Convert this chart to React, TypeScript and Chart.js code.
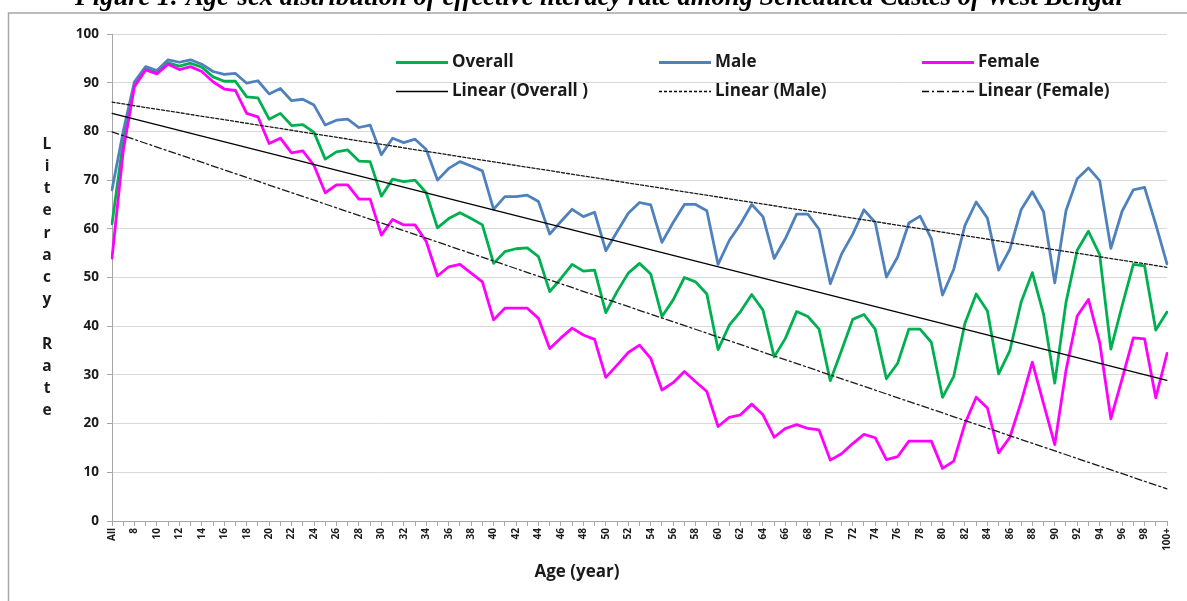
import React, { useEffect, useRef } from "react";
import { Chart, registerables } from "chart.js";

Chart.register(...registerables);

const ages: string[] = ["All"];
for (let a = 7; a <= 99; a++) ages.push(String(a));
ages.push("100+");

const overall: number[] = [
  61, 78, 89.7, 93, 92, 94.1, 93.4, 94, 93.2, 91.2,
  90.3, 90.3, 87.1, 86.9, 82.5, 83.7, 81.2, 81.4, 79.8, 74.3,
  75.8, 76.2, 73.9, 73.8, 66.7, 70.2, 69.7, 70.0, 67.4, 60.2,
  62.1, 63.3, 62.1, 60.8, 52.9, 55.3, 55.9, 56.1, 54.3, 47.1,
  49.8, 52.7, 51.3, 51.5, 42.8, 47.1, 50.9, 52.9, 50.7, 42.0,
  45.4, 50.0, 49.1, 46.6, 35.2, 40.2, 43.0, 46.5, 43.3, 33.7,
  37.5, 43.0, 42.0, 39.4, 28.8, 35.0, 41.4, 42.4, 39.4, 29.2,
  32.4, 39.4, 39.4, 36.7, 25.4, 29.7, 40.6, 46.6, 43.1, 30.2,
  35.0, 44.9, 51.0, 42.5, 28.3, 44.9, 55.6, 59.5, 54.7, 35.3,
  44.2, 52.7, 52.4, 39.2, 42.9,
];

const male: number[] = [
  68, 80, 90.2, 93.3, 92.5, 94.7, 94.2, 94.7, 93.8, 92.3,
  91.7, 91.9, 89.9, 90.4, 87.7, 88.8, 86.3, 86.6, 85.4, 81.3,
  82.3, 82.5, 80.8, 81.3, 75.2, 78.6, 77.7, 78.4, 76.3, 70.0,
  72.4, 73.8, 72.9, 71.9, 64.0, 66.6, 66.6, 66.9, 65.6, 58.9,
  61.5, 64.0, 62.5, 63.4, 55.5, 59.4, 63.2, 65.4, 64.9, 57.2,
  61.3, 65.0, 65.0, 63.7, 52.7, 57.6, 61.0, 65.0, 62.5, 53.9,
  58.0, 63.0, 63.0, 59.9, 48.7, 54.8, 58.9, 63.9, 61.3, 50.1,
  54.2, 61.2, 62.6, 58.0, 46.4, 51.7, 60.7, 65.5, 62.2, 51.5,
  55.8, 63.9, 67.6, 63.5, 48.9, 63.7, 70.3, 72.5, 69.9, 56.0,
  63.6, 68.0, 68.5, 60.9, 52.8,
];

const female: number[] = [
  54, 76, 89.2, 92.6, 91.8, 93.8, 92.7, 93.3, 92.3, 90.2,
  88.7, 88.4, 83.7, 83.0, 77.5, 78.6, 75.6, 76.0, 73.0, 67.4,
  69.0, 69.0, 66.1, 66.1, 58.7, 61.9, 60.8, 60.8, 57.4, 50.3,
  52.2, 52.7, 50.9, 49.1, 41.3, 43.7, 43.7, 43.7, 41.6, 35.4,
  37.6, 39.6, 38.2, 37.3, 29.5, 32.0, 34.6, 36.1, 33.4, 26.9,
  28.4, 30.7, 28.6, 26.6, 19.4, 21.3, 21.8, 24.0, 21.8, 17.2,
  19.0, 19.8, 19.0, 18.7, 12.5, 13.8, 15.9, 17.8, 17.1, 12.6,
  13.2, 16.4, 16.4, 16.4, 10.8, 12.3, 20.0, 25.4, 23.2, 14.0,
  17.2, 24.4, 32.6, 24.1, 15.7, 30.9, 42.1, 45.5, 36.7, 21.0,
  29.2, 37.6, 37.4, 25.3, 34.4,
];

// trend line end values (first category, last category)
const trendOverall: number[] = [83.7, 28.9];
const trendMale: number[] = [86.0, 52.1];
const trendFemale: number[] = [79.9, 6.6];

const yTicks: number[] = [0, 10, 20, 30, 40, 50, 60, 70, 80, 90, 100];

const TITLE =
  "Figure 1: Age-sex distribution of effective literacy rate among Scheduled Castes of West Bengal";
const Y_TITLE = "Literacy Rate";
const X_TITLE = "Age (year)";

const FONT = '"Open Sans", "Noto Sans", sans-serif';
const TEXT = "#1a1a1a";

const endpoints = (pair: number[]) =>
  ages.map((_, i) => (i === 0 ? pair[0] : i === ages.length - 1 ? pair[1] : null));

type LegendItem = { label: string; color: string; width: number; dash: number[] };
const legendItems: LegendItem[] = [
  { label: "Overall", color: "#00b050", width: 3, dash: [] },
  { label: "Male", color: "#4f81bd", width: 3, dash: [] },
  { label: "Female", color: "#ff00ff", width: 3, dash: [] },
  { label: "Linear (Overall )", color: "#000000", width: 1.3, dash: [] },
  { label: "Linear (Male)", color: "#000000", width: 1.3, dash: [3, 2] },
  { label: "Linear (Female)", color: "#000000", width: 1.3, dash: [7, 3, 2, 3] },
];

const decorPlugin = {
  id: "decor",
  beforeDraw(chart: any) {
    const ctx = chart.ctx;
    ctx.save();
    ctx.strokeStyle = "#a6a6a6";
    ctx.lineWidth = 1.5;
    ctx.beginPath();
    ctx.moveTo(8.5, chart.height + 2);
    ctx.lineTo(8.5, 13);
    ctx.lineTo(chart.width + 2, 13);
    ctx.stroke();
    ctx.restore();
  },
  afterDraw(chart: any) {
    const ctx = chart.ctx;
    const area = chart.chartArea;
    ctx.save();
    // title (cut off at top)
    ctx.font = 'bold italic 20px "Liberation Serif", "DejaVu Serif", serif';
    const w20 = ctx.measureText(TITLE).width;
    const size = (20 * 1048) / w20;
    ctx.font = `bold italic ${size}px "Liberation Serif", "DejaVu Serif", serif`;
    ctx.fillStyle = "#000";
    ctx.textAlign = "left";
    ctx.textBaseline = "alphabetic";
    ctx.fillText(TITLE, 75, 4.5);

    // y title stacked letters
    ctx.font = `bold 15.5px ${FONT}`;
    ctx.fillStyle = TEXT;
    ctx.textAlign = "center";
    ctx.textBaseline = "middle";
    const letters = Y_TITLE.split("");
    const step = 22.2;
    const cy = (area.top + area.bottom) / 2;
    const start = cy - ((letters.length - 1) * step) / 2;
    letters.forEach((ch, k) => {
      if (ch !== " ") ctx.fillText(ch, 47, start + k * step);
    });

    // x title
    ctx.font = `bold 17px ${FONT}`;
    ctx.textAlign = "center";
    ctx.fillText(X_TITLE, 577, 572);

    // legend
    ctx.font = `bold 17px ${FONT}`;
    ctx.textAlign = "left";
    ctx.textBaseline = "middle";
    legendItems.forEach((it, k) => {
      const col = k % 3;
      const row = Math.floor(k / 3);
      const x0 = area.left + 284 + col * 263;
      const y0 = area.top + 28.5 + row * 29;
      ctx.strokeStyle = it.color;
      ctx.lineWidth = it.width;
      ctx.setLineDash(it.dash);
      ctx.beginPath();
      ctx.moveTo(x0, y0);
      ctx.lineTo(x0 + 52, y0);
      ctx.stroke();
      ctx.setLineDash([]);
      ctx.fillStyle = TEXT;
      ctx.fillText(it.label, x0 + 56, y0);
    });
    ctx.restore();
  },
};

export default function App() {
  const ref = useRef<HTMLCanvasElement | null>(null);
  useEffect(() => {
    if (!ref.current) return;
    const lineCommon = {
      pointRadius: 0,
      pointHoverRadius: 0,
      tension: 0,
      fill: false,
      borderJoinStyle: "round" as const,
      borderCapStyle: "round" as const,
    };
    const chart = new Chart(ref.current, {
      type: "line",
      data: {
        labels: ages,
        datasets: [
          { label: "Overall", data: overall, borderColor: "#00b050", borderWidth: 2.8, order: 4, ...lineCommon },
          { label: "Male", data: male, borderColor: "#4f81bd", borderWidth: 2.8, order: 3, ...lineCommon },
          { label: "Female", data: female, borderColor: "#ff00ff", borderWidth: 2.8, order: 2, ...lineCommon },
          { label: "Linear (Overall )", data: endpoints(trendOverall), borderColor: "#000000", borderWidth: 1.3, spanGaps: true, order: 1, ...lineCommon },
          { label: "Linear (Male)", data: endpoints(trendMale), borderColor: "#1a1a1a", borderWidth: 1.3, borderDash: [3, 2], spanGaps: true, order: 1, ...lineCommon },
          { label: "Linear (Female)", data: endpoints(trendFemale), borderColor: "#1a1a1a", borderWidth: 1.3, borderDash: [7, 3, 2, 3], spanGaps: true, order: 1, ...lineCommon },
        ],
      },
      options: {
        responsive: false,
        animation: false,
        events: [],
        layout: { padding: { left: 0, top: 34, right: 20, bottom: 0 } },
        plugins: {
          legend: { display: false },
          tooltip: { enabled: false },
          title: { display: false },
        },
        scales: {
          x: {
            type: "category",
            offset: false,
            grid: {
              display: true,
              drawOnChartArea: false,
              drawTicks: true,
              tickLength: 5,
              color: "#a6a6a6",
            },
            border: { color: "#a6a6a6", width: 1 },
            ticks: {
              autoSkip: false,
              minRotation: 90,
              maxRotation: 90,
              padding: 2,
              color: TEXT,
              font: { family: FONT, size: 10, weight: "bold" },
              callback: (_v: any, idx: number) => (idx % 2 === 0 ? ages[idx] : ""),
            },
            afterFit: (s: any) => {
              s.height = 80;
            },
          },
          y: {
            min: 0,
            max: 100,
            afterBuildTicks: (s: any) => {
              s.ticks = yTicks.map((v) => ({ value: v }));
            },
            grid: { color: "#d9d9d9", lineWidth: 1, tickLength: 5, tickColor: "#a6a6a6" },
            border: { color: "#a6a6a6", width: 1 },
            ticks: {
              padding: 8,
              color: TEXT,
              font: { family: FONT, size: 13.5, weight: "bold" },
            },
            afterFit: (s: any) => {
              s.width = 112;
            },
          },
        },
      } as any,
      plugins: [decorPlugin],
    });
    return () => chart.destroy();
  }, []);
  return (
    <div style={{ position: "absolute", left: 0, top: 0, width: 1187, height: 601, background: "#fff" }}>
      <canvas ref={ref} width={1187} height={601} style={{ display: "block" }} />
    </div>
  );
}
